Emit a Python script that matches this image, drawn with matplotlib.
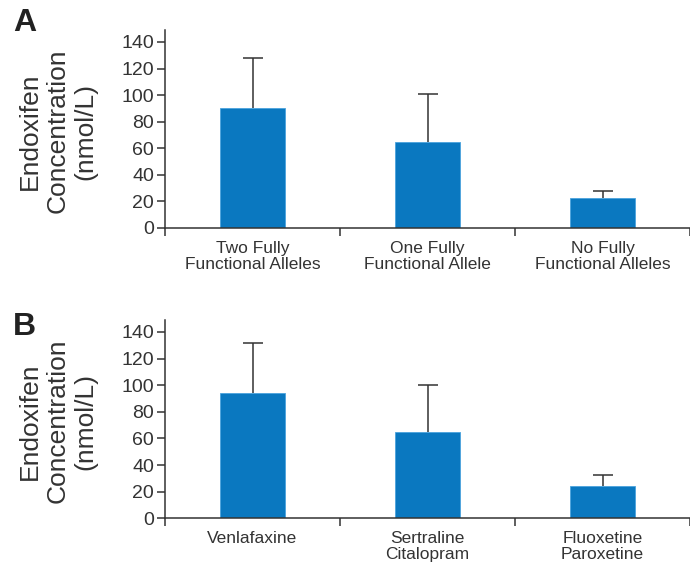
import matplotlib
matplotlib.use("Agg")
import matplotlib.pyplot as plt
import numpy as np

plt.rcParams['font.family'] = ['Liberation Sans Narrow', 'Liberation Sans', 'DejaVu Sans']

cats_a = ["Two Fully\nFunctional Alleles", "One Fully\nFunctional Allele", "No Fully\nFunctional Alleles"]
vals_a = [90, 65, 22.5]
err_a = [38, 36, 5.5]

cats_b = ["Venlafaxine", "Sertraline\nCitalopram", "Fluoxetine\nParoxetine"]
vals_b = [94, 64.5, 24.5]
err_b = [38, 36, 8]

yticks = [0, 20, 40, 60, 80, 100, 120, 140]
panel_labels = ["A", "B"]

BLUE = "#0a78c0"
TXT = "#333333"

fig = plt.figure(figsize=(6.9, 5.7), dpi=100)
W, H = 690, 570

def make_axes(zero_px, top_px):
    return fig.add_axes([165 / W, 1 - zero_px / H, 525 / W, (zero_px - top_px) / H])

specs = [
    (make_axes(228, 30), cats_a, vals_a, err_a, 8, 131),
    (make_axes(518.3, 320), cats_b, vals_b, err_b, 312, 421),
]

for i, (ax, cats, vals, errs, letter_y, label_y) in enumerate(specs):
    x = np.arange(len(cats))
    vals = np.array(vals)
    errs = np.array(errs)
    ax.bar(x, vals, width=0.37, color=BLUE, edgecolor="#4aa3dd", linewidth=0.6, zorder=2)
    ax.vlines(x, vals, vals + errs, color=TXT, linewidth=1.1, zorder=1)
    ax.plot(x, vals + errs, linestyle="none", marker="_", markersize=14,
            markeredgewidth=1.1, color=TXT, zorder=1)
    ax.set_xlim(-0.5, 2.5)
    ax.set_ylim(0, 149)
    ax.set_yticks(yticks)
    ax.set_yticklabels([str(t) for t in yticks], fontsize=14, color=TXT)
    ax.set_xticks([-0.5, 0.5, 1.5, 2.5])
    ax.set_xticklabels([])
    ax.set_xticks(x, minor=True)
    ax.set_xticklabels(cats, minor=True, fontsize=12.5, color=TXT, linespacing=1.1)
    ax.tick_params(axis="x", which="minor", length=0, pad=9)
    ax.tick_params(axis="x", which="major", length=6, width=1.1, color=TXT, direction="out")
    ax.tick_params(axis="y", length=6, width=1.1, color=TXT, direction="out", pad=2)
    for s in ["top", "right"]:
        ax.spines[s].set_visible(False)
    for s in ["left", "bottom"]:
        ax.spines[s].set_color(TXT)
        ax.spines[s].set_linewidth(1.1)
    fig.text(58 / W, 1 - label_y / H, "Endoxifen\nConcentration\n(nmol/L)", rotation=90,
             ha="center", va="center", fontsize=19, color=TXT, linespacing=1.2)
    fig.text(13 / W, 1 - letter_y / H, panel_labels[i], fontsize=23, fontweight="bold",
             color="#222222", ha="left", va="top")

fig.savefig("out.png", dpi=100)
